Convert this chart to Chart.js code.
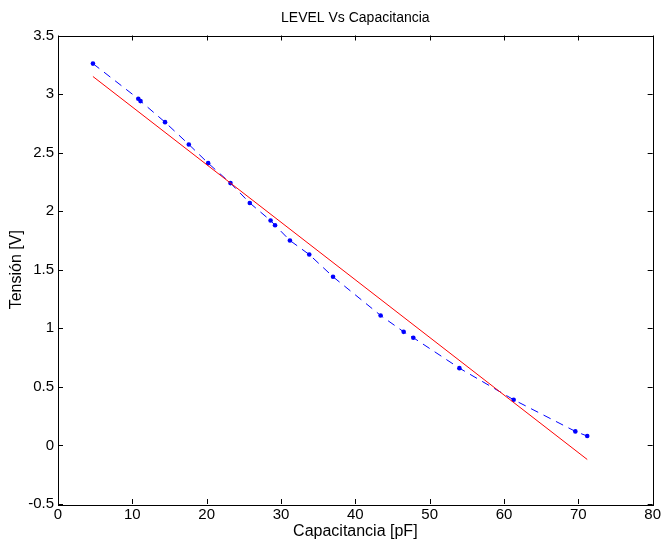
<!DOCTYPE html>
<html>
<head>
<meta charset="utf-8">
<script src="https://cdn.jsdelivr.net/npm/chart.js@4"></script>
<style>
    body { margin: 0; background: #fff; }
    #wrap { width: 663px; height: 541px; }
</style>
</head>
<body>
<div id="wrap"><canvas id="myChart" width="663" height="541"></canvas></div>
<script>
    var capacitancia = [4.7, 10.8, 11.1, 14.4, 17.6, 20.2, 23.2, 25.8, 28.6, 29.2, 31.2, 33.8, 37.0, 43.4, 46.5, 47.8, 54.0, 61.3, 69.6, 71.2];
    var tension = [3.26, 2.96, 2.94, 2.76, 2.57, 2.41, 2.24, 2.07, 1.92, 1.88, 1.75, 1.63, 1.44, 1.11, 0.97, 0.92, 0.66, 0.39, 0.12, 0.08];

    // recta de ajuste (extremos)
    var ajusteX = [4.7, 71.2];
    var ajusteY = [3.15, -0.12];

    var xTicks = [0, 10, 20, 30, 40, 50, 60, 70, 80];
    var yTicks = [-0.5, 0, 0.5, 1, 1.5, 2, 2.5, 3, 3.5];

    var fuente = 'Helvetica, "Liberation Sans", Arial, sans-serif';

    function toPoints(xs, ys) {
        var pts = [];
        for (var i = 0; i < xs.length; i++) {
            pts.push({ x: xs[i], y: ys[i] });
        }
        return pts;
    }

    // caja y ticks hacia adentro, estilo matlab
    var cajaPlugin = {
        id: 'caja',
        afterDraw: function (chart) {
            var ctx = chart.ctx;
            var a = chart.chartArea;
            var sx = chart.scales.x;
            var sy = chart.scales.y;
            var len = 5;
            ctx.save();
            ctx.strokeStyle = '#000';
            ctx.lineWidth = 1;
            ctx.strokeRect(Math.round(a.left) + 0.5, Math.round(a.top) + 0.5, Math.round(a.right - a.left), Math.round(a.bottom - a.top));
            ctx.beginPath();
            for (var i = 0; i < xTicks.length; i++) {
                var px = Math.round(sx.getPixelForValue(xTicks[i])) + 0.5;
                ctx.moveTo(px, a.bottom);
                ctx.lineTo(px, a.bottom - len);
                ctx.moveTo(px, a.top);
                ctx.lineTo(px, a.top + len);
            }
            for (var j = 0; j < yTicks.length; j++) {
                var py = Math.round(sy.getPixelForValue(yTicks[j])) + 0.5;
                ctx.moveTo(a.left, py);
                ctx.lineTo(a.left + len, py);
                ctx.moveTo(a.right, py);
                ctx.lineTo(a.right - len, py);
            }
            ctx.stroke();
            ctx.restore();
        }
    };

    var data = {
        datasets: [
            {
                label: 'ajuste',
                data: toPoints(ajusteX, ajusteY),
                showLine: true,
                borderColor: '#ff0000',
                borderWidth: 1,
                pointRadius: 0
            },
            {
                label: 'medido',
                data: toPoints(capacitancia, tension),
                showLine: true,
                borderColor: '#0000ff',
                backgroundColor: '#0000ff',
                borderWidth: 1,
                borderDash: [8, 6],
                pointRadius: 2.3,
                pointBorderWidth: 0
            }
        ]
    };

    var config = {
        type: 'scatter',
        data: data,
        options: {
            responsive: false,
            animation: false,
            layout: { padding: { left: 0, right: 9, top: 0, bottom: 0 } },
            plugins: {
                legend: false,
                tooltip: { enabled: false },
                title: {
                    display: true,
                    fullSize: false,
                    text: 'LEVEL Vs Capacitancia',
                    color: '#000',
                    font: { family: fuente, size: 14, weight: 'normal' },
                    padding: { top: 10, bottom: 8.7 }
                }
            },
            scales: {
                x: {
                    type: 'linear',
                    min: 0,
                    max: 80,
                    afterBuildTicks: function (scale) {
                        scale.ticks = xTicks.map(function (v) { return { value: v }; });
                    },
                    afterFit: function (scale) { scale.height = 37; },
                    grid: { display: false, drawTicks: false },
                    border: { display: false },
                    ticks: {
                        color: '#000', padding: 2, maxRotation: 0, font: { family: fuente, size: 15 },
                        callback: function (v) { return String(v); }
                    },
                    title: {
                        display: true,
                        text: 'Capacitancia [pF]',
                        color: '#000',
                        font: { family: fuente, size: 16 },
                        padding: { top: 0, bottom: 0 }
                    }
                },
                y: {
                    type: 'linear',
                    min: -0.5,
                    max: 3.5,
                    afterBuildTicks: function (scale) {
                        scale.ticks = yTicks.map(function (v) { return { value: v }; });
                    },
                    afterFit: function (scale) { scale.width = 58; },
                    grid: { display: false, drawTicks: false },
                    border: { display: false },
                    ticks: {
                        color: '#000', padding: 4, font: { family: fuente, size: 15 },
                        callback: function (v) { return String(v); }
                    },
                    title: {
                        display: true,
                        text: 'Tensión [V]',
                        color: '#000',
                        font: { family: fuente, size: 16 },
                        padding: { top: 7, bottom: 0 }
                    }
                }
            }
        },
        plugins: [cajaPlugin]
    };

    var myChart = new Chart(document.getElementById('myChart'), config);
</script>
</body>
</html>
